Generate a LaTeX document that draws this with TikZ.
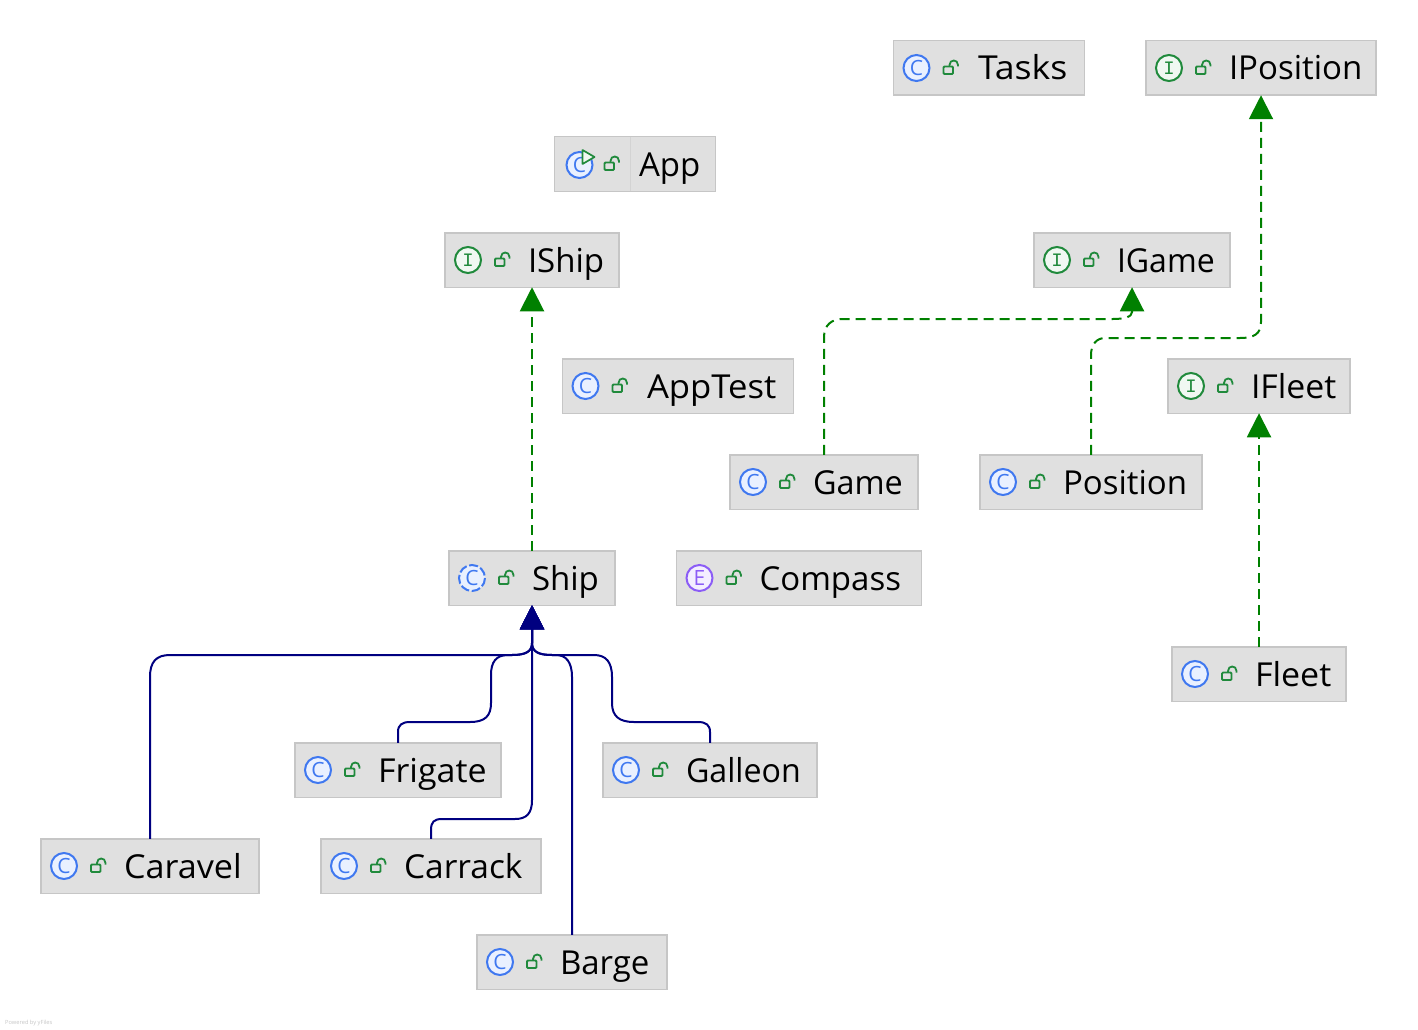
\documentclass[tikz,border=0pt]{standalone}
\usepackage{fontspec}
\usepackage{graphicx}
\setmainfont{Open Sans}
\setmonofont{Liberation Mono}
\usetikzlibrary{arrows.meta}
\definecolor{boxfill}{HTML}{E0E0E0}
\definecolor{boxline}{HTML}{C6C6C6}
\definecolor{iblue}{HTML}{3F78F0}
\definecolor{ibluef}{HTML}{E9F0FF}
\definecolor{igreen}{HTML}{208A3C}
\definecolor{igreenf}{HTML}{F0F8F2}
\definecolor{ipurple}{HTML}{8B5CF6}
\definecolor{ipurplef}{HTML}{F3EEFF}
\definecolor{realize}{HTML}{008000}
\definecolor{inherit}{HTML}{000080}
\tikzset{
  umlbox/.style={draw=boxline,fill=boxfill,line width=1.5pt,rectangle,inner xsep=0pt,inner ysep=0pt,
    minimum height=54.5pt,outer sep=0pt,text height=29pt,text depth=5pt,font=\fontsize{33}{36}\selectfont,anchor=center},
  iconring/.style={line width=2pt},
  icontext/.style={inner sep=0pt,font=\fontsize{21}{21}\selectfont},
  realizes/.style={draw=realize,line width=2pt,dash pattern=on 10pt off 6pt,-{Triangle[length=24pt,width=24pt]}},
  inherits/.style={draw=inherit,line width=2pt,-{Triangle[length=24pt,width=24pt]}},
}
% name, centre x, centre y, width, icon macro, text
\newcommand{\umlnode}[6]{%
  \node[umlbox] (#1) at (#2,#3) {\makebox[#4pt][l]{\hspace{83pt}#6}};
  \begin{scope}[shift={(#1.west)}]
    #5
    \draw[igreen,line width=1.8pt,rounded corners=1pt] (50,-1.5) rectangle (59.5,6);
    \draw[igreen,line width=1.8pt] (56,-1.5) -- (56,-3) .. controls (56,-9) and (64.5,-9) .. (64.5,-3) -- (64.5,-1.5);
  \end{scope}}
\newcommand{\wdx}[2]{\scalebox{#1}[1]{#2}}
\newcommand{\icC}{\draw[iconring,iblue,fill=ibluef] (23,0) circle (13);
  \node[icontext,iblue] at (23,0) {C};}
\newcommand{\icA}{\draw[iconring,iblue,fill=ibluef,dash pattern=on 9pt off 2.6pt] (23,0) circle (13);
  \node[icontext,iblue] at (23,0) {C};}
\newcommand{\icR}{\draw[iconring,iblue,fill=ibluef] (25,1) circle (13);
  \node[icontext,iblue] at (25,1) {C};
  \draw[igreen,fill=igreenf,line width=1.7pt,line join=round] (28,-14) -- (40,-7) -- (28,0) -- cycle;
  \draw[line width=0.6pt,draw=boxline!50!boxfill] (76,-27) -- (76,27);}
\newcommand{\icI}{\draw[iconring,igreen,fill=igreenf] (23,0) circle (13);
  \node[icontext,igreen,font=\fontsize{19}{19}\selectfont\ttfamily] at (23,0) {I};}
\newcommand{\icE}{\draw[iconring,ipurple,fill=ipurplef] (23,0) circle (13);
  \node[icontext,ipurple] at (23,0) {E};}
\begin{document}
\begin{tikzpicture}[x=1pt,y=-1pt]
\fill[white] (0,0) rectangle (1418,1030);
\useasboundingbox (0,0) rectangle (1418,1030);
\umlnode{tasks}{989}{68}{191}{\icC}{\kern1.5pt\wdx{1.08}{Tasks}}
\umlnode{iposition}{1261}{68}{230}{\icI}{IPosition}
\umlnode{app}{635}{164}{161}{\icR}{\kern1.5pt App}
\umlnode{iship}{532}{260}{174}{\icI}{IShip}
\umlnode{igame}{1132}{260}{196}{\icI}{\wdx{0.97}{IGame}}
\umlnode{apptest}{678}{386}{231}{\icC}{\kern1.5pt\wdx{1.05}{AppTest}}
\umlnode{ifleet}{1259}{386}{182}{\icI}{\wdx{1.025}{IFleet}}
\umlnode{game}{824}{482}{188}{\icC}{\wdx{0.98}{Game}}
\umlnode{position}{1091}{482}{222}{\icC}{Position}
\umlnode{ship}{532}{578}{166}{\icA}{Ship}
\umlnode{compass}{799}{578}{245}{\icE}{Compass}
\umlnode{fleet}{1259}{674}{174}{\icC}{\wdx{1.03}{Fleet}}
\umlnode{frigate}{398}{770}{206}{\icC}{\wdx{1.03}{Frigate}}
\umlnode{galleon}{710}{770}{214}{\icC}{\wdx{0.975}{Galleon}}
\umlnode{caravel}{150}{866}{218}{\icC}{\wdx{1.035}{Caravel}}
\umlnode{carrack}{431}{866}{220}{\icC}{\wdx{1.015}{Carrack}}
\umlnode{barge}{572}{962}{190}{\icC}{Barge}
\node[anchor=base west,inner sep=0pt,text=black!22,font=\fontsize{5.7}{7}\selectfont] (powered) at (5,1024.5) {Powered by yFiles};
% realizations
\draw[realizes] (ship.north) -- (iship.south);
\draw[realizes] (fleet.north) -- (ifleet.south);
\draw[realizes] (game.north) -- (824,337) .. controls (824,325) and (832,319) .. (842,319) -- (1113,319) .. controls (1124,319) and (1132,317) .. (1132,312) -- (igame.south);
\draw[realizes] (position.north) -- (1091,355) .. controls (1091,344) and (1097,338) .. (1105,338) -- (1240,338) .. controls (1254,338) and (1261,334) .. (1261,322) -- (iposition.south);
% inheritance
\draw[inherits] (caravel.north) -- (150,677) .. controls (150,662) and (156,655) .. (170,655) -- (512,655) .. controls (525,655) and (532,652) .. (532,643) -- (ship.south);
\draw[inherits] (frigate.north) -- (398,732) .. controls (398,725) and (402,722) .. (410,722) -- (470,722) .. controls (485,722) and (491,716) .. (491,703) -- (491,675) .. controls (491,662) and (496,655) .. (508,655) -- (512,655) .. controls (525,655) and (532,652) .. (532,643) -- (ship.south);
\draw[inherits] (carrack.north) -- (431,830) .. controls (431,822) and (434,819) .. (442,819) -- (515,819) .. controls (527,819) and (532,813) .. (532,800) -- (ship.south);
\draw[inherits] (barge.north) -- (572,677) .. controls (572,662) and (566,655) .. (556,655) -- (552,655) .. controls (539,655) and (532,652) .. (532,643) -- (ship.south);
\draw[inherits] (galleon.north) -- (710,732) .. controls (710,725) and (706,722) .. (698,722) -- (634,722) .. controls (619,722) and (612,716) .. (612,703) -- (612,677) .. controls (612,662) and (606,655) .. (594,655) -- (552,655) .. controls (539,655) and (532,652) .. (532,643) -- (ship.south);
\end{tikzpicture}
\end{document}
